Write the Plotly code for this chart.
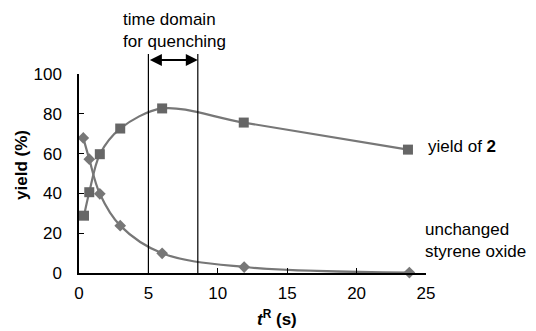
import plotly.graph_objects as go

t_yield = [0.36, 0.74, 1.5, 2.97, 5.99, 11.87, 23.7]
yield2 = [28.8, 40.6, 59.7, 72.6, 82.7, 75.6, 62.0]
t_sm = [0.31, 0.74, 1.5, 2.97, 5.99, 11.9, 23.8]
styrene = [67.9, 57.2, 39.8, 23.8, 9.9, 3.0, 0.2]
quench_window = [5.0, 8.56]
x_ticks = [0, 5, 10, 15, 20, 25]
y_ticks = [0, 20, 40, 60, 80, 100]

FONT = "Liberation Sans, Arial, sans-serif"
FS = 17
LINE = "#777777"

fig = go.Figure()
fig.add_trace(go.Scatter(x=t_yield, y=yield2, mode="lines+markers",
                         line=dict(color=LINE, width=2.2, shape="spline", smoothing=0.9),
                         marker=dict(symbol="square", size=10, color="#666666"),
                         cliponaxis=False, showlegend=False))
fig.add_trace(go.Scatter(x=t_sm, y=styrene, mode="lines+markers",
                         line=dict(color=LINE, width=2.2, shape="spline", smoothing=1.0),
                         marker=dict(symbol="diamond", size=9, color="#777777"),
                         cliponaxis=False, showlegend=False))

for xv in quench_window:
    fig.add_shape(type="line", xref="x", yref="paper", x0=xv, x1=xv, y0=0, y1=1.10,
                  line=dict(color="black", width=1.2))

fig.add_annotation(x=quench_window[1], y=1.07, ax=quench_window[0], ay=0,
                   xref="x", yref="paper", axref="x", ayref="pixel",
                   showarrow=True, arrowhead=2, arrowside="end+start", arrowsize=1.2,
                   arrowwidth=2, arrowcolor="black", text="")
fig.add_annotation(x=3.17, y=1.221, xref="x", yref="paper", text="time domain<br>for quenching",
                   showarrow=False, font=dict(family=FONT, size=FS, color="black"),
                   align="left", xanchor="left", yanchor="middle", xshift=-2)
fig.add_annotation(x=1.0, y=0.638, xref="paper", yref="paper", xshift=0, text="yield of <b>2</b>",
                   showarrow=False, font=dict(family=FONT, size=FS, color="black"),
                   xanchor="left", yanchor="middle")
fig.add_annotation(x=1.0, y=0.161, xref="paper", yref="paper", xshift=-3,
                   text="unchanged<br>styrene oxide", align="left",
                   showarrow=False, font=dict(family=FONT, size=FS, color="black"),
                   xanchor="left", yanchor="middle")
fig.add_annotation(x=0.0, y=0.543, xref="paper", yref="paper", xshift=-57, text="<b>yield (%)</b>",
                   textangle=-90, showarrow=False, font=dict(family=FONT, size=FS, color="black"),
                   xanchor="center", yanchor="middle")
fig.add_annotation(x=14.3, y=0, xref="x", yref="paper", yshift=-45,
                   text="<b><i>t</i><sup>R</sup> (s)</b>",
                   showarrow=False, font=dict(family=FONT, size=FS, color="black"),
                   xanchor="center", yanchor="middle")

axis_common = dict(showgrid=False, zeroline=False, showline=True, linecolor="black",
                   linewidth=1.5, ticks="inside", ticklen=5, tickwidth=1.2, tickcolor="black",
                   tickfont=dict(family=FONT, size=FS, color="black"))
fig.update_xaxes(range=[0, 25], tickvals=x_ticks, ticklabelstandoff=4, **axis_common)
fig.update_yaxes(range=[0, 100], tickvals=y_ticks, ticklabelstandoff=12, **axis_common)

fig.update_layout(width=536, height=331, margin=dict(l=79, r=110, t=74, b=58),
                  plot_bgcolor="white", paper_bgcolor="white",
                  font=dict(family=FONT, size=FS, color="black"))
fig.write_html("out.html", config={"displayModeBar": False},
               post_script="document.body.style.margin='0';")
